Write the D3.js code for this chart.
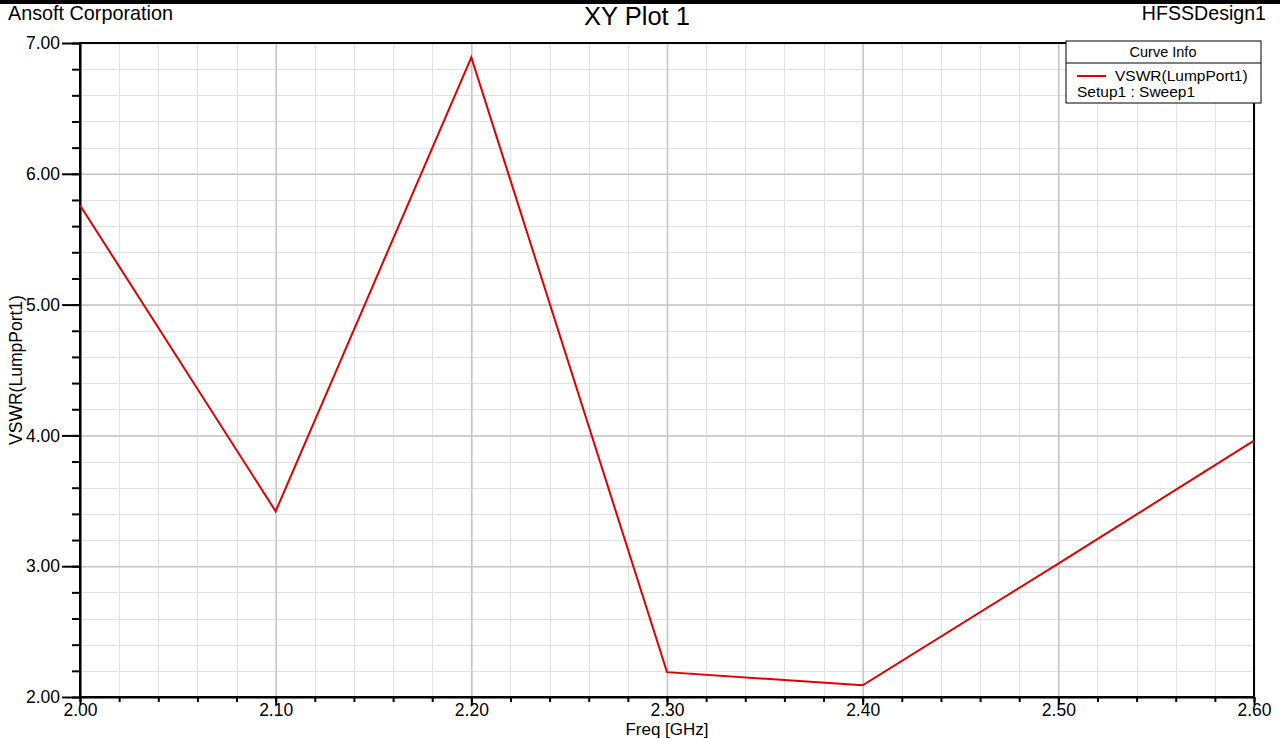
<!DOCTYPE html>
<html lang="en">
<head>
<meta charset="UTF-8">
<script src="https://d3js.org/d3.v7.min.js"></script>
<style>
  body { margin: 0; background: #fff; }
  svg { display: block; font-family: "Liberation Sans", Arial, sans-serif; }
  .grid-minor line { stroke: #e2e2e2; stroke-width: 1px; shape-rendering: crispEdges; }
  .grid-major line { stroke: #c4c4c4; stroke-width: 1.5px; }
  .grid-minor path, .grid-major path { stroke-width: 0; }
  .axis path, .axis line { stroke: #000; stroke-width: 2px; }
  .axis text { font-size: 17.5px; fill: #000; }
</style>
</head>
<body>
<script>
// data
var freq = [2.00, 2.10, 2.20, 2.30, 2.40, 2.50, 2.60];
var vswr = [5.76, 3.42, 6.89, 2.19, 2.09, 3.02, 3.96];
var xTicks = [2.00, 2.10, 2.20, 2.30, 2.40, 2.50, 2.60];
var yTicks = [2.00, 3.00, 4.00, 5.00, 6.00, 7.00];

var W = 1280, H = 739;
var margin = {top: 43, right: 26, bottom: 42, left: 80};
var width = W - margin.left - margin.right,
    height = H - margin.top - margin.bottom;

var svg = d3.select("body").append("svg")
  .attr("width", W)
  .attr("height", H);

// black strip at top of window
svg.append("rect").attr("x", 0).attr("y", 0).attr("width", W).attr("height", 4).attr("fill", "#000");

var g = svg.append("g")
  .attr("transform", "translate(" + margin.left + "," + margin.top + ")");

var x = d3.scaleLinear().domain([2.0, 2.6]).range([0, width]);
var y = d3.scaleLinear().domain([2.0, 7.0]).range([height, 0]);

var xMinor = d3.range(0, 31).map(function(i) { return 2.0 + i * 0.02; });
var yMinor = d3.range(0, 26).map(function(i) { return 2.0 + i * 0.2; });

// minor grid
g.append("g").attr("class", "grid-minor")
  .attr("transform", "translate(0," + height + ")")
  .call(d3.axisBottom(x).tickValues(xMinor).tickSize(-height).tickFormat(""));
g.append("g").attr("class", "grid-minor")
  .call(d3.axisLeft(y).tickValues(yMinor).tickSize(-width).tickFormat(""));

// major grid
g.append("g").attr("class", "grid-major")
  .attr("transform", "translate(0," + height + ")")
  .call(d3.axisBottom(x).tickValues(xTicks).tickSize(-height).tickFormat(""));
g.append("g").attr("class", "grid-major")
  .call(d3.axisLeft(y).tickValues(yTicks).tickSize(-width).tickFormat(""));

// axes: minor ticks
g.append("g").attr("class", "axis")
  .attr("transform", "translate(0," + height + ")")
  .call(d3.axisBottom(x).tickValues(xMinor).tickSize(5).tickFormat("").tickSizeOuter(0));
g.append("g").attr("class", "axis")
  .call(d3.axisLeft(y).tickValues(yMinor).tickSize(8).tickFormat("").tickSizeOuter(0));

// axes: major ticks and labels
var xAxis = g.append("g").attr("class", "axis")
  .attr("transform", "translate(0," + height + ")")
  .call(d3.axisBottom(x).tickValues(xTicks).tickSize(8).tickPadding(-1)
    .tickFormat(d3.format(".2f")).tickSizeOuter(0));
xAxis.select(".domain").remove();

var yAxis = g.append("g").attr("class", "axis")
  .call(d3.axisLeft(y).tickValues(yTicks).tickSize(18).tickPadding(2)
    .tickFormat(d3.format(".2f")).tickSizeOuter(0));
yAxis.select(".domain").remove();

// plot frame
g.append("rect")
  .attr("x", 0).attr("y", 0)
  .attr("width", width).attr("height", height)
  .attr("fill", "none").attr("stroke", "#000").attr("stroke-width", 2);

// curve
var line = d3.line()
  .x(function(d, i) { return x(freq[i]); })
  .y(function(d) { return y(d); });

g.append("path")
  .datum(vswr)
  .attr("fill", "none")
  .attr("stroke", "#e00000")
  .attr("stroke-width", 2)
  .attr("d", line);

// titles
svg.append("text").attr("x", 8).attr("y", 20)
  .attr("font-size", 19.8).text("Ansoft Corporation");
svg.append("text").attr("x", 637).attr("y", 25)
  .attr("text-anchor", "middle").attr("font-size", 25.5).text("XY Plot 1");
svg.append("text").attr("x", 1266).attr("y", 20)
  .attr("text-anchor", "end").attr("font-size", 19.6).text("HFSSDesign1");

// axis titles
svg.append("text").attr("x", margin.left + x(2.3)).attr("y", 735)
  .attr("text-anchor", "middle").attr("font-size", 17).text("Freq [GHz]");
svg.append("text")
  .attr("transform", "translate(22," + (margin.top + height / 2) + ")rotate(-90)")
  .attr("text-anchor", "middle").attr("font-size", 17.5).text("VSWR(LumpPort1)");

// legend
var lg = svg.append("g").attr("transform", "translate(1066,41)");
lg.append("rect").attr("width", 195).attr("height", 62)
  .attr("fill", "#fff").attr("stroke", "#000").attr("stroke-width", 1);
lg.append("line").attr("x1", 0).attr("x2", 195).attr("y1", 22).attr("y2", 22)
  .attr("stroke", "#000").attr("stroke-width", 1);
lg.append("text").attr("x", 97).attr("y", 16).attr("text-anchor", "middle")
  .attr("font-size", 14.5).text("Curve Info");
lg.append("line").attr("x1", 11).attr("x2", 40).attr("y1", 35).attr("y2", 35)
  .attr("stroke", "#e00000").attr("stroke-width", 2);
lg.append("text").attr("x", 49).attr("y", 40).attr("font-size", 15.5).text("VSWR(LumpPort1)");
lg.append("text").attr("x", 11).attr("y", 56).attr("font-size", 15.5).text("Setup1 : Sweep1");
</script>
</body>
</html>
